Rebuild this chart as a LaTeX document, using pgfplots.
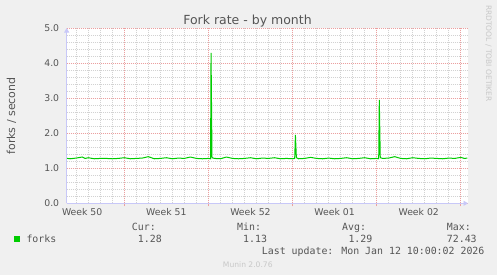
\documentclass[border=0pt]{standalone}
\usepackage{pgfplots}
\pgfplotsset{compat=1.18}
\usetikzlibrary{arrows.meta}
\usepackage{fontspec}
\setmainfont{DejaVu Sans}
\newfontfamily\monofont{DejaVu Sans Mono}
\definecolor{bgcol}{HTML}{F0F0F0}
\definecolor{majgrid}{HTML}{EBA0A0}
\definecolor{mingrid}{HTML}{D2D2D2}
\definecolor{axcol}{HTML}{C8C8F8}
\definecolor{lgreen}{HTML}{00CC00}
\definecolor{txt}{HTML}{555555}
\definecolor{ltxt}{HTML}{C8C8C8}
\begin{document}
\begin{tikzpicture}[x=1pt,y=1pt]
\fill[bgcol] (0,0) rectangle (497,275);
\begin{axis}[
  at={(66.7pt,71.7pt)}, anchor=south west,
  scale only axis, width=401.3pt, height=175.3pt,
  xmin=-4.79, xmax=28.6, ymin=0, ymax=5,
  axis background/.style={fill=white},
  axis lines=left,
  axis line style={draw=axcol, line width=0.8pt},
  every outer x axis line/.append style={-{Triangle[width=5pt,length=4.5pt]}},
  every outer y axis line/.append style={-{Triangle[width=5pt,length=4.5pt]}},
  grid=both,
  major grid style={dash pattern=on 1pt off 1pt, draw=majgrid, line width=0.7pt},
  minor grid style={dash pattern=on 1pt off 1pt, draw=mingrid, line width=0.7pt},
  xtick={0,7,14,21,28}, xticklabels={},
  minor xtick={-4,-3,...,28},
  ytick={0,1,2,3,4,5},
  minor ytick={0.2,0.4,0.6,0.8,1.2,1.4,1.6,1.8,2.2,2.4,2.6,2.8,3.2,3.4,3.6,3.8,4.2,4.4,4.6,4.8},
  tick align=outside, major tick length=3pt, minor tick length=0pt,
  xtick style={draw=majgrid, line width=0.7pt},
  ytick style={draw=none},
  yticklabel style={font=\fontsize{9.3}{11}\selectfont, text=txt, xshift=-1pt},
  /pgf/number format/assume math mode=true,
  yticklabel={\pgfmathprintnumber[fixed,fixed zerofill,precision=1]{\tick}},
  extra x ticks={-3.5,3.5,10.5,17.5,24.5},
  extra x tick labels={Week 50,Week 51,Week 52,Week 01,Week 02},
  extra x tick style={grid=none, major tick length=0pt,
     tick label style={font=\fontsize{9.3}{11}\selectfont, text=txt, anchor=base, yshift=-12.5pt}},
  clip=false,
  legend style={draw=none, fill=none, inner sep=0pt, outer sep=0pt,
     at={(-0.1313,-0.2037)}, anchor=west,
     font=\monofont\fontsize{9.9}{12}\selectfont, text=txt,
     nodes={inner sep=0pt}},
  legend image code/.code={\fill[#1, draw=none] (0pt,-3pt) rectangle (6pt,3pt); \path[draw=none, fill=none] (0pt,0pt) -- (12.5pt,0pt);},
]
\addplot[color=lgreen, line width=1pt] coordinates {
(-4.75,1.28) (-4.5,1.27) (-4.0,1.29) (-3.5,1.32) (-3.25,1.28) (-3.0,1.30)
(-2.5,1.27) (-2.0,1.28) (-1.5,1.28) (-1.0,1.27) (-0.5,1.28) (0,1.30)
(0.5,1.27) (1.0,1.28) (1.5,1.29) (2.0,1.33) (2.5,1.27) (3.0,1.28)
(3.5,1.30) (4.0,1.27) (4.5,1.29) (5.0,1.28) (5.5,1.32) (6.0,1.28)
(6.5,1.27) (7.0,1.28) (7.18,1.27) (7.22,4.29) (7.30,1.30) (7.5,1.28)
(8.0,1.27) (8.5,1.32) (9.0,1.28) (9.5,1.27) (10.0,1.28) (10.5,1.30)
(11.0,1.27) (11.5,1.29) (12.0,1.28) (12.5,1.30) (13.0,1.27) (13.5,1.28)
(14.0,1.27) (14.18,1.28) (14.24,1.95) (14.32,1.30) (14.5,1.27) (15.0,1.28)
(15.5,1.31) (16.0,1.28) (16.5,1.27) (17.0,1.29) (17.5,1.27) (18.0,1.28)
(18.5,1.30) (19.0,1.27) (19.5,1.28) (20.0,1.30) (20.5,1.27) (21.0,1.28)
(21.17,1.27) (21.22,2.95) (21.30,1.30) (21.5,1.28) (22.0,1.29) (22.5,1.33)
(23.0,1.28) (23.5,1.27) (24.0,1.30) (24.5,1.28) (25.0,1.27) (25.5,1.29)
(26.0,1.28) (26.5,1.27) (27.0,1.29) (27.5,1.28) (28.0,1.31) (28.3,1.28)
(28.55,1.29)
};
\addlegendentry{forks}
\end{axis}
\node[anchor=base, text=txt, font=\fontsize{12.5}{14}\selectfont] at (247.5,250.5) {Fork rate - by month};
\node[rotate=90, text=txt, font=\fontsize{11}{13}\selectfont] at (11.5,159) {forks / second};
\node[rotate=-90, text=ltxt, font=\fontsize{7.5}{9}\selectfont] at (488.5,221.6) {RRDTOOL / TOBI OETIKER};
\begin{scope}[every node/.style={anchor=base west, inner sep=0pt, text=txt, font=\monofont\fontsize{9.9}{12}\selectfont}]
\node at (131.7,44) {Cur:};
\node at (137.7,32.3) {1.28};
\node at (237,44) {Min:};
\node at (243,32.3) {1.13};
\node at (342,44) {Avg:};
\node at (348.3,32.3) {1.29};
\node at (446.7,44) {Max:};
\node at (446.7,32.3) {72.43};
\node at (261.7,20.5) {Last update: Mon Jan 12 10:00:02 2026};
\end{scope}
\node[anchor=base, inner sep=0pt, text=ltxt, font=\fontsize{7.6}{9}\selectfont] at (247.8,7.5) {Munin 2.0.76};
\end{tikzpicture}
\end{document}
